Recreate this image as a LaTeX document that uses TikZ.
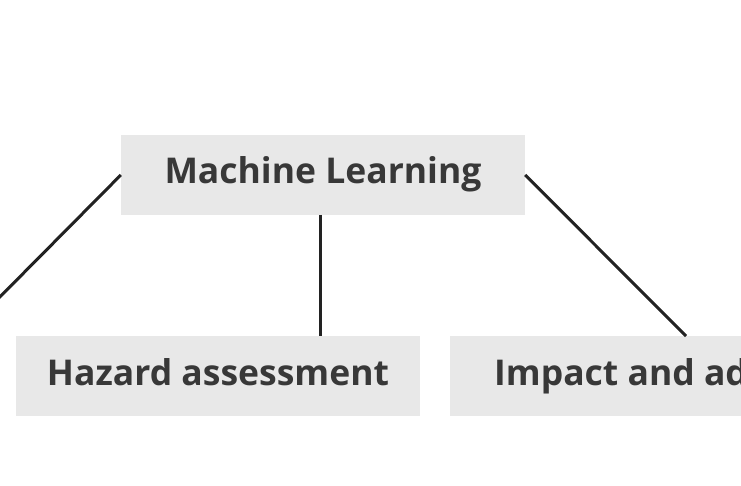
\documentclass[tikz,border=0pt]{standalone}
\usepackage{fontspec}
\setmainfont{Open Sans}
\usetikzlibrary{positioning}

\definecolor{boxgray}{HTML}{E8E8E8}
\definecolor{textgray}{HTML}{383838}
\definecolor{linegray}{HTML}{222222}

\tikzset{
	topic/.style={fill=boxgray,text=textgray,font=\fontsize{35.5}{40}\selectfont\bfseries,minimum width=404pt,minimum height=80pt,inner sep=0pt,text height=26pt,text depth=8pt},
	link/.style={draw=linegray,line width=3pt}
}

\begin{document}
\begin{tikzpicture}[x=1pt,y=-1pt]
	\useasboundingbox (0,0) rectangle (741,486);
	\node[topic] at (323,175) (ml) {Machine Learning};
	\node[topic] at (218,376) (hazard) {Hazard assessment};
	\node[topic,anchor=west] at (450,376) (impact) {\hspace*{44pt}Impact and adaptation\hspace*{10pt}};
	\coordinate (left) at (-20,317);
	\coordinate (mid) at (320,215);
	
	\draw[link] (ml.west) -- (left);
	\draw[link] (mid) -- (mid |- hazard.north);
	\draw[link] (ml.east) -- (686,336);
\end{tikzpicture}
\end{document}
